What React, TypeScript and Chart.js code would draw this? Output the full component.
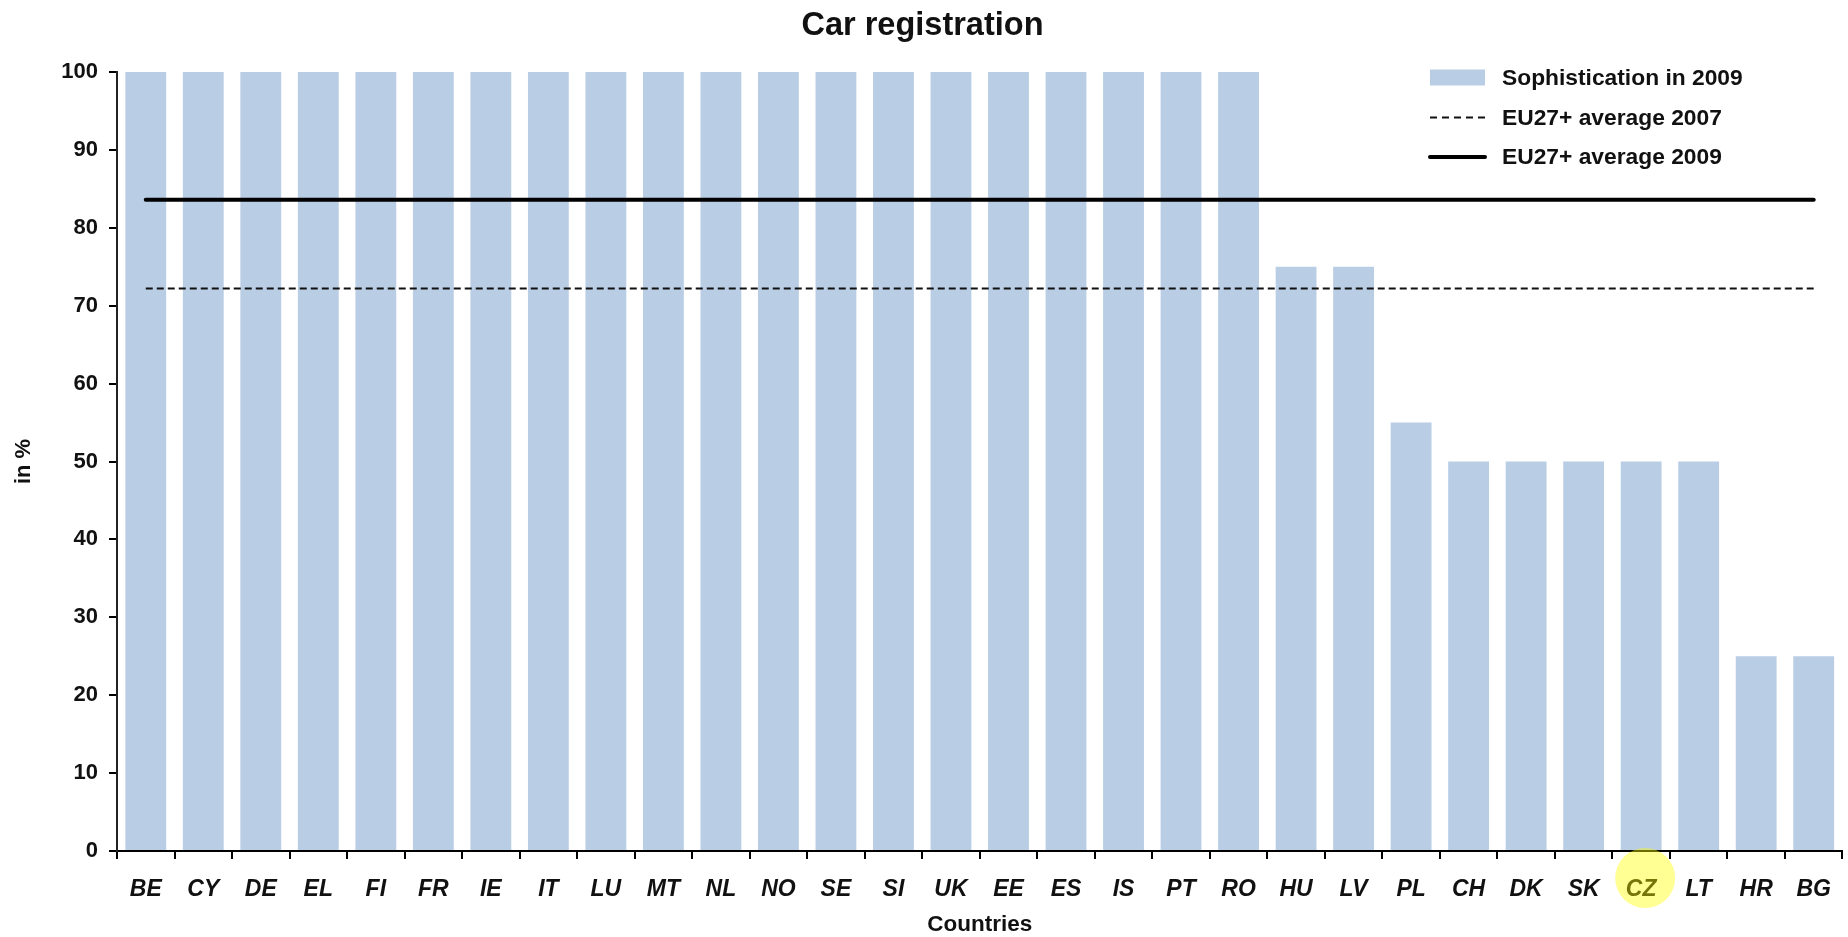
import React, { useEffect, useRef } from 'react';
import { Chart, registerables } from 'chart.js';

Chart.register(...registerables);

const countries = ['BE', 'CY', 'DE', 'EL', 'FI', 'FR', 'IE', 'IT', 'LU', 'MT', 'NL', 'NO', 'SE', 'SI', 'UK', 'EE', 'ES', 'IS', 'PT', 'RO', 'HU', 'LV', 'PL', 'CH', 'DK', 'SK', 'CZ', 'LT', 'HR', 'BG'];
const sophistication2009 = [100, 100, 100, 100, 100, 100, 100, 100, 100, 100, 100, 100, 100, 100, 100, 100, 100, 100, 100, 100, 75, 75, 55, 50, 50, 50, 50, 50, 25, 25];
const euAverage2007 = 72.2;
const euAverage2009 = 83.6;
const highlightCountry = 'CZ';
const seriesLabels = ['Sophistication in 2009', 'EU27+ average 2007', 'EU27+ average 2009'];
const chartTitle = 'Car registration';
const xAxisTitle = 'Countries';
const yAxisTitle = 'in %';

const FONT = "'Liberation Sans', Arial, sans-serif";
const BAR_COLOR = '#b9cde5';

const highlightPlugin = {
  id: 'highlightCountry',
  afterDraw(chart: any) {
    const idx = countries.indexOf(highlightCountry);
    if (idx < 0) return;
    const x = chart.scales.x.getPixelForValue(idx) + 4;
    const y = chart.chartArea.bottom + 27;
    const ctx = chart.ctx;
    ctx.save();
    ctx.beginPath();
    ctx.arc(x, y, 30, 0, Math.PI * 2);
    ctx.fillStyle = 'rgba(255,255,0,0.42)';
    ctx.fill();
    ctx.restore();
  },
};

const legendPlugin = {
  id: 'customLegend',
  afterDraw(chart: any) {
    const ctx = chart.ctx;
    const ds = chart.data.datasets;
    const boxX = 1430;
    const boxW = 55;
    const textX = 1502;
    const rows = [77.5, 117.5, 157];
    ctx.save();
    ctx.font = `bold 22.8px ${FONT}`;
    ctx.textBaseline = 'middle';
    ctx.textAlign = 'left';
    ds.forEach((d: any, i: number) => {
      const y = rows[i];
      if (d.type === 'bar' || i === 0) {
        ctx.fillStyle = d.backgroundColor;
        ctx.fillRect(boxX, y - 8, boxW, 16);
      } else {
        ctx.beginPath();
        ctx.strokeStyle = d.borderColor;
        ctx.lineWidth = d.borderWidth;
        ctx.setLineDash(d.borderDash ? [7, 5] : []);
        ctx.lineCap = d.borderDash ? 'butt' : 'round';
        ctx.moveTo(boxX, y);
        ctx.lineTo(boxX + boxW, y);
        ctx.stroke();
        ctx.setLineDash([]);
      }
      ctx.fillStyle = '#111';
      ctx.fillText(d.label, textX, y + 1);
    });
    ctx.restore();
  },
};

export default function App() {
  const ref = useRef<HTMLCanvasElement | null>(null);

  useEffect(() => {
    document.body.style.margin = '0';
    if (!ref.current) return;
    const chart = new Chart(ref.current, {
      type: 'bar',
      data: {
        labels: countries,
        datasets: [
          {
            type: 'bar',
            label: seriesLabels[0],
            data: sophistication2009,
            backgroundColor: BAR_COLOR,
            borderWidth: 0,
            categoryPercentage: 1,
            barPercentage: 0.71,
            order: 3,
          } as any,
          {
            type: 'line',
            label: seriesLabels[1],
            data: countries.map(() => euAverage2007),
            borderColor: '#111',
            borderWidth: 2,
            borderDash: [7, 4],
            pointRadius: 0,
            fill: false,
            order: 2,
          } as any,
          {
            type: 'line',
            label: seriesLabels[2],
            data: countries.map(() => euAverage2009),
            borderColor: '#000',
            borderWidth: 4,
            borderCapStyle: 'round',
            pointRadius: 0,
            fill: false,
            order: 1,
          } as any,
        ],
      },
      options: {
        responsive: false,
        animation: false,
        layout: { padding: { left: 0, right: 3, top: 0, bottom: 0 } },
        plugins: {
          legend: { display: false },
          tooltip: { enabled: false },
          title: {
            display: true,
            text: chartTitle,
            color: '#111',
            font: { family: FONT, size: 32.5, weight: 'bold' },
            padding: { top: 6.5, bottom: 26.5 },
          },
        },
        scales: {
          x: {
            offset: true,
            grid: {
              display: true,
              drawOnChartArea: false,
              drawTicks: true,
              tickLength: 8,
              color: '#000',
              lineWidth: 2,
              offset: true,
            },
            border: { display: true, color: '#000', width: 2 },
            ticks: {
              color: '#111',
              font: { family: FONT, size: 23, weight: 'bold', style: 'italic' },
              padding: 17,
              maxRotation: 0,
              autoSkip: false,
            },
            title: {
              display: true,
              text: xAxisTitle,
              color: '#111',
              font: { family: FONT, size: 22.5, weight: 'bold' },
              padding: { top: 0, bottom: -1 },
            },
            afterFit(scale: any) {
              scale.height = 86;
            },
          },
          y: {
            min: 0,
            max: 100,
            ticks: {
              stepSize: 10,
              color: '#111',
              font: { family: FONT, size: 22, weight: 'bold' },
              padding: 11,
            },
            grid: {
              display: true,
              drawOnChartArea: false,
              drawTicks: true,
              tickLength: 8,
              color: '#000',
              lineWidth: 2,
            },
            border: { display: true, color: '#222', width: 2 },
            title: {
              display: true,
              text: yAxisTitle,
              color: '#111',
              font: { family: FONT, size: 22, weight: 'bold' },
              padding: { top: 11, bottom: 0 },
            },
            afterFit(scale: any) {
              scale.width = 117;
            },
          },
        },
      },
      plugins: [legendPlugin, highlightPlugin],
    });
    return () => chart.destroy();
  }, []);

  return (
    <div style={{ width: 1848, height: 937 }}>
      <canvas ref={ref} width={1848} height={937} style={{ display: 'block' }} />
    </div>
  );
}
